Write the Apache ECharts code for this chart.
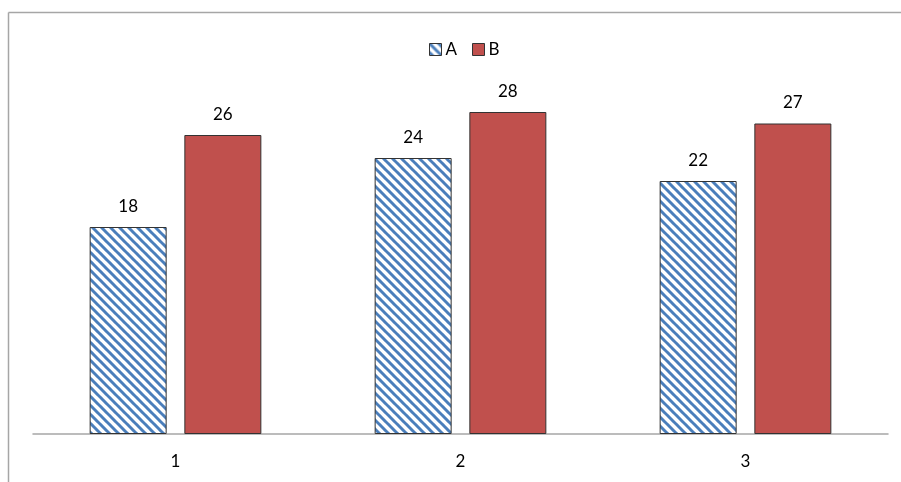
<!DOCTYPE html>
<html>
<head>
<meta charset="utf-8">
<script src="https://cdn.jsdelivr.net/npm/echarts@6/dist/echarts.min.js"></script>
<style>
  html, body { margin: 0; padding: 0; background: #fff; }
  #chart { width: 901px; height: 482px; }
</style>
</head>
<body>
<div id="chart"></div>
<script>
const categories = ['1', '2', '3'];
const seriesA = [18, 24, 22];
const seriesB = [26, 28, 27];

// diagonal stripe tile for series A
function stripeTile() {
  const p = 9;
  const c = document.createElement('canvas');
  c.width = p;
  c.height = p;
  const ctx = c.getContext('2d');
  ctx.fillStyle = '#fff';
  ctx.fillRect(0, 0, p, p);
  ctx.strokeStyle = '#4a7ebb';
  ctx.lineWidth = 3;
  for (let k = -1; k <= 1; k++) {
    ctx.beginPath();
    ctx.moveTo(k * p - 1, -1);
    ctx.lineTo(k * p + p + 1, p + 1);
    ctx.stroke();
  }
  return c;
}

const stripes = { image: stripeTile(), repeat: 'repeat' };
const font = 'Lato, "Open Sans", sans-serif';

const chart = echarts.init(document.getElementById('chart'));
chart.setOption({
  animation: false,
  textStyle: { fontFamily: font },
  legend: {
    top: 36,
    left: 424,
    itemWidth: 12,
    itemHeight: 12,
    itemGap: 15,
    textStyle: { fontSize: 17, color: '#000', fontFamily: font, padding: [0, 0, 0, -1] },
    data: [
      { name: 'A', icon: 'rect', itemStyle: { color: stripes, borderColor: '#333', borderWidth: 1 } },
      { name: 'B', icon: 'rect', itemStyle: { color: '#c0504d', borderColor: '#333', borderWidth: 1 } }
    ]
  },
  grid: { left: 33, right: 13, top: 89, bottom: 48 },
  xAxis: {
    type: 'category',
    data: categories,
    axisLine: { lineStyle: { color: '#a6a6a6', width: 1.5 } },
    axisTick: { show: false },
    axisLabel: { fontSize: 17, color: '#000', margin: 19, fontFamily: font }
  },
  yAxis: {
    type: 'value',
    min: 0,
    max: 30,
    show: false,
    splitLine: { show: false }
  },
  series: [
    {
      name: 'A',
      type: 'bar',
      data: seriesA,
      barWidth: 77,
      barGap: '23%',
      itemStyle: { color: stripes, borderColor: '#333', borderWidth: 1 },
      label: { show: true, position: 'top', distance: 12, fontSize: 17, color: '#000', fontFamily: font }
    },
    {
      name: 'B',
      type: 'bar',
      data: seriesB,
      barWidth: 77,
      itemStyle: { color: '#c0504d', borderColor: '#333', borderWidth: 1 },
      label: { show: true, position: 'top', distance: 12, fontSize: 17, color: '#000', fontFamily: font }
    }
  ],
  graphic: [
    { type: 'line', shape: { x1: 8.5, y1: 12.5, x2: 901, y2: 12.5 }, style: { stroke: '#a6a6a6', lineWidth: 1.5 } },
    { type: 'line', shape: { x1: 8.5, y1: 12.5, x2: 8.5, y2: 482 }, style: { stroke: '#a6a6a6', lineWidth: 1.5 } }
  ]
});
</script>
</body>
</html>
